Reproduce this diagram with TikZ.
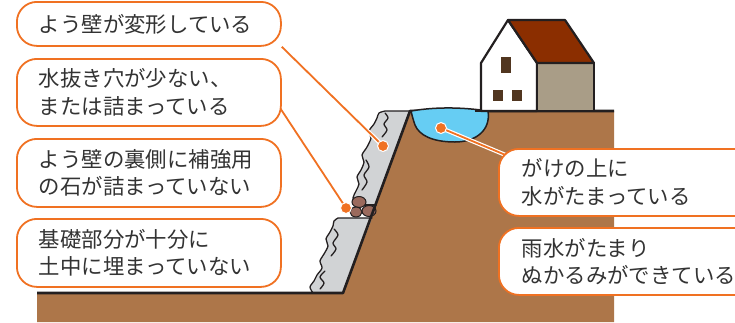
\documentclass[tikz,border=0pt]{standalone}
\usepackage{fontspec}
\newfontfamily\jp{Noto Sans CJK JP}
\definecolor{soil}{HTML}{AD7649}
\definecolor{wallgrey}{HTML}{D1D3D5}
\definecolor{pond}{HTML}{66CDF3}
\definecolor{roof}{HTML}{8B2E00}
\definecolor{sidewall}{HTML}{A99D87}
\definecolor{window}{HTML}{513620}
\definecolor{accent}{HTML}{F07122}
\definecolor{ink}{HTML}{333333}
\definecolor{rock}{HTML}{9B6A5D}
\definecolor{outline}{HTML}{231F20}
\pgfdeclarelayer{back}
\pgfdeclarelayer{links}
\pgfdeclarelayer{front}
\pgfsetlayers{back,links,main,front}
\begin{document}
\begin{tikzpicture}[x=1pt,y=-1pt,
  callout/.style={draw=accent, line width=1.8pt, fill=white, rounded corners=20pt,
    align=left, inner xsep=22pt, inner ysep=2pt, text=ink, anchor=north west,
    font=\jp\fontsize{21.4pt}{27.5pt}\selectfont},
  dot/.style={circle, fill=accent, draw=white, line width=1pt, inner sep=0pt, minimum size=11pt},
  link/.style={draw=accent, line width=1.8pt, preaction={draw=white, line width=4.2pt}},
  edge/.style={draw=outline, line width=2.6pt, line join=round},
  crack/.style={draw=outline, line width=1.3pt, line cap=round, line join=round},
  stone/.style={fill=rock, draw=outline, line width=1pt}]
\clip (0,0) rectangle (735,322);

\begin{pgfonlayer}{back}
  % ground with the slope
  \fill[soil] (37,293) -- (343,293) -- (410,111) -- (614,111) -- (614,322) -- (37,322) -- cycle;
  % upper retaining wall
  \fill[wallgrey] (385,111) -- (410,111) -- (376,205) -- (356,205)
    -- plot[smooth] coordinates {(356,205) (353,198) (356,191) (359,184) (357,177) (361,170)
      (364,162) (362,155) (367,147) (371,138) (369,131) (374,124) (377,118) (379,113) (385,111)} -- cycle;
  \draw[crack] plot[smooth] coordinates {(356,205) (353,198) (356,191) (359,184) (357,177) (361,170)
      (364,162) (362,155) (367,147) (371,138) (369,131) (374,124) (377,118) (379,113) (385,111)}
    -- (410,111);
  \draw[crack] (356,205) -- (376,205);
  \draw[crack] plot[smooth] coordinates {(385,113) (388,118) (384,124) (387,130) (382,137)};
  \draw[crack] plot[smooth] coordinates {(366,160) (369,167) (364,175) (367,182) (362,190)};
  % lower retaining wall
  \fill[wallgrey] (338,218) -- (372,218) -- (343,293) -- (313,293)
    -- plot[smooth] coordinates {(313,293) (310,287) (314,281) (317,275) (322,268) (320,261)
      (324,254) (328,246) (326,239) (330,232) (333,226) (334,221) (338,218)} -- cycle;
  \draw[crack] plot[smooth] coordinates {(313,293) (310,287) (314,281) (317,275) (322,268) (320,261)
      (324,254) (328,246) (326,239) (330,232) (333,226) (334,221) (338,218)} -- (372,218);
  \draw[crack] plot[smooth] coordinates {(334,229) (338,235) (333,243) (336,249) (331,256)};
  \draw[crack] plot[smooth] coordinates {(320,289) (324,283) (320,277) (325,271)};
  % stones packed between the walls
  \filldraw[stone] (359,202) ellipse [x radius=7pt, y radius=5.5pt];
  \filldraw[stone] (369,211) ellipse [x radius=7pt, y radius=5.5pt];
  \filldraw[stone] (356,212) ellipse [x radius=6pt, y radius=5pt];
  % slope and ground edges
  \draw[edge] (37,293) -- (343,293) -- (410,111) -- (614,111);
  % pond on top of the slope
  \filldraw[fill=pond, draw=outline, line width=1.5pt]
    (411,111) .. controls (440,106) and (468,108) .. (488,111)
    .. controls (491,130) and (476,142) .. (455,142)
    .. controls (432,142) and (419,135) .. (415,125)
    .. controls (413,119) .. (411,111) -- cycle;
  % house
  \begin{scope}[draw=outline, line width=2.2pt, line join=round]
    \filldraw[fill=white] (481,111) -- (481,63) -- (508,20) -- (537,63) -- (537,111) -- cycle;
    \filldraw[fill=sidewall] (537,63) rectangle (594,111);
    \filldraw[fill=roof] (508,20) -- (565,20) -- (594,63) -- (537,63) -- cycle;
  \end{scope}
  \fill[window] (501,57) rectangle (511,73);
  \fill[window] (493,90) rectangle (503,101);
  \fill[window] (512,90) rectangle (522,101);
  \draw[edge] (475,111) -- (614,111);
\end{pgfonlayer}

% callout boxes
\node[callout, text width=220pt, minimum height=44pt] (b1) at (16,1) {よう壁が変形している};
\node[callout, text width=220pt, minimum height=67pt] (b2) at (16,58) {水抜き穴が少ない、\\または詰まっている};
\node[callout, text width=220pt, minimum height=68pt] (b3) at (16,138) {よう壁の裏側に補強用\\の石が詰まっていない};
\node[callout, text width=220pt, minimum height=68pt] (b4) at (16,218) {基礎部分が十分に\\土中に埋まっていない};
\node[callout, text width=240pt, inner xsep=23pt, minimum height=67pt] (b5) at (498,148) {がけの上に\\水がたまっている};
\node[callout, text width=240pt, inner xsep=23pt, minimum height=67pt] (b6) at (498,227) {雨水がたまり\\ぬかるみができている};

% markers
\begin{pgfonlayer}{front}
  \node[dot] (d1) at (383,146) {};
  \node[dot] (d2) at (346,208) {};
  \node[dot] (d3) at (441,128) {};
\end{pgfonlayer}

% leader lines
\begin{pgfonlayer}{links}
  \draw[link] (d1.center) -- (b1.south east);
  \draw[link] (d2.center) -- ([xshift=-12pt]b2.east);
  \draw[link] (d3.center) -- ([xshift=10pt,yshift=-8pt]b5.north west);
\end{pgfonlayer}
\end{tikzpicture}
\end{document}
